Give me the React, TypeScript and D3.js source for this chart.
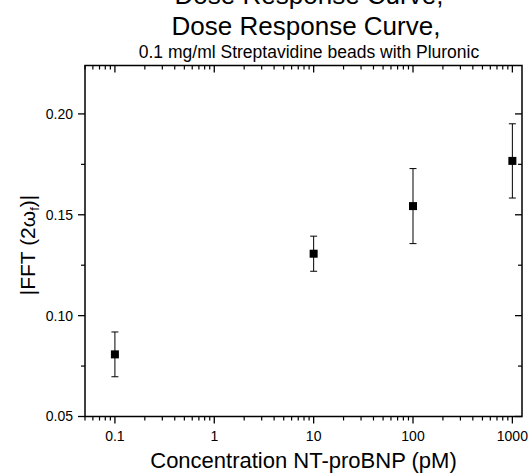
import React from 'react';
import * as d3 from 'd3';

// Data
const concentrations = [0.1, 10, 100, 1000];
const fftMean = [0.0808, 0.1307, 0.1543, 0.1767];
const fftErr = [0.0111, 0.0087, 0.0186, 0.0184];

const xMajorTicks = [0.1, 1, 10, 100, 1000];
const xTickLabels = ['0.1', '1', '10', '100', '1000'];
const yMajorTicks = [0.05, 0.1, 0.15, 0.2];
const yTickLabels = ['0.05', '0.10', '0.15', '0.20'];
const yMinorTicks = [0.075, 0.125, 0.175];

const W = 530;
const H = 474;
const FONT = '"Liberation Sans", Arial, sans-serif';

const App: React.FC = () => {
  const left = 85, right = 522, top = 65.5, bottom = 416.5;

  const x = d3.scaleLog().domain([0.05, 1250]).range([left, right]);
  const y = d3.scaleLinear().domain([0.05, 0.224]).range([bottom, top]);

  // minor log ticks 2..9 inside the domain
  const xMinor: number[] = [];
  [0.01, 0.1, 1, 10, 100, 1000].forEach(dec => {
    for (let m = 2; m <= 9; m++) {
      const v = dec * m;
      if (v >= 0.05 && v <= 1250) xMinor.push(v);
    }
  });

  const majorLen = 7;
  const minorLen = 4;

  return (
    <svg width={W} height={H} style={{ position: 'absolute', left: 0, top: 0, background: '#fff' }}
      fontFamily={FONT}>
      {/* duplicate title, mostly cut off by the top edge as in the source image */}
      <text x={309} y={4} textAnchor="middle" fontSize={26} fill="#000">Dose Response Curve,</text>
      <text x={306} y={35} textAnchor="middle" fontSize={26} fill="#000">Dose Response Curve,</text>
      <text x={309} y={58} textAnchor="middle" fontSize={17.5} fill="#000">
        0.1 mg/ml Streptavidine beads with Pluronic
      </text>

      {/* frame */}
      <rect x={left} y={top} width={right - left} height={bottom - top} fill="none" stroke="#000" strokeWidth={1.5} />

      {/* x ticks bottom (outward) and top (inward) */}
      {xMajorTicks.map((t, i) => (
        <g key={'xm' + i}>
          <line x1={x(t)} x2={x(t)} y1={bottom} y2={bottom + majorLen} stroke="#000" strokeWidth={1.3} />
          <line x1={x(t)} x2={x(t)} y1={top} y2={top + majorLen} stroke="#000" strokeWidth={1.3} />
          <text x={x(t)} y={441} textAnchor="middle" fontSize={14} fill="#000">{xTickLabels[i]}</text>
        </g>
      ))}
      {xMinor.map((t, i) => (
        <g key={'xn' + i}>
          <line x1={x(t)} x2={x(t)} y1={bottom} y2={bottom + minorLen} stroke="#000" strokeWidth={1.2} />
          <line x1={x(t)} x2={x(t)} y1={top} y2={top + minorLen} stroke="#000" strokeWidth={1.2} />
        </g>
      ))}

      {/* y ticks left (outward) and right (inward) */}
      {yMajorTicks.map((t, i) => (
        <g key={'ym' + i}>
          <line x1={left - majorLen} x2={left} y1={y(t)} y2={y(t)} stroke="#000" strokeWidth={1.3} />
          <line x1={right - majorLen} x2={right} y1={y(t)} y2={y(t)} stroke="#000" strokeWidth={1.3} />
          <text x={73} y={y(t)} dy="0.35em" textAnchor="end" fontSize={14} fill="#000">{yTickLabels[i]}</text>
        </g>
      ))}
      {yMinorTicks.map((t, i) => (
        <g key={'yn' + i}>
          <line x1={left - minorLen} x2={left} y1={y(t)} y2={y(t)} stroke="#000" strokeWidth={1.2} />
          <line x1={right - minorLen} x2={right} y1={y(t)} y2={y(t)} stroke="#000" strokeWidth={1.2} />
        </g>
      ))}

      {/* error bars and markers */}
      {concentrations.map((c, i) => {
        const cx = x(c);
        const y0 = y(fftMean[i] - fftErr[i]);
        const y1 = y(fftMean[i] + fftErr[i]);
        return (
          <g key={'p' + i}>
            <line x1={cx} x2={cx} y1={y0} y2={y1} stroke="#000" strokeWidth={1} />
            <line x1={cx - 3.5} x2={cx + 3.5} y1={y0} y2={y0} stroke="#000" strokeWidth={1} />
            <line x1={cx - 3.5} x2={cx + 3.5} y1={y1} y2={y1} stroke="#000" strokeWidth={1} />
            <rect x={cx - 4} y={y(fftMean[i]) - 4} width={8} height={8} fill="#000" />
          </g>
        );
      })}

      {/* axis titles */}
      <text x={303.5} y={468} textAnchor="middle" fontSize={22} fill="#000">
        Concentration NT-proBNP (pM)
      </text>
      <text transform="translate(35,245) rotate(-90)" textAnchor="middle" fontSize={21} fill="#000">
        |FFT (2ω<tspan fontSize={13} dy={4}>f</tspan><tspan dy={-4}>)|</tspan>
      </text>
    </svg>
  );
};

export default App;
